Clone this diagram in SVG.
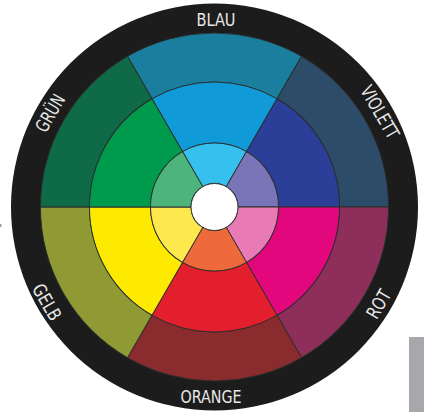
<svg xmlns="http://www.w3.org/2000/svg" xmlns:xlink="http://www.w3.org/1999/xlink" width="424" height="412" viewBox="0 0 424 412">
<style>
.w{stroke:#2a2e2c;stroke-width:0.9;stroke-linejoin:round}
.lbl{font-family:"DejaVu Sans Condensed","DejaVu Sans","Liberation Sans",sans-serif;font-size:18.5px;font-weight:300;fill:#e8e8e8;text-anchor:middle}
</style>
<defs>
<path id="wo" d="M-87,-150.69 A174,174 0 0 1 87,-150.69 L62.5,-108.25 A125,125 0 0 0 -62.5,-108.25 Z"/>
<path id="wm" d="M-62.5,-108.25 A125,125 0 0 1 62.5,-108.25 L32,-55.43 A64,64 0 0 0 -32,-55.43 Z"/>
<path id="wi" d="M-32,-55.43 A64,64 0 0 1 32,-55.43 L11.75,-20.35 A23.5,23.5 0 0 0 -11.75,-20.35 Z"/>
</defs>
<rect width="424" height="412" fill="#ffffff"/>
<rect x="409" y="337" width="15" height="75" fill="#a7a8ab"/>
<rect x="0" y="224" width="1.5" height="3" fill="#9a9a9a"/>
<circle id="ring" cx="214.5" cy="207" r="203.5" fill="#1c1c1c"/>
<g transform="translate(214.5,207)">
<g id="blau">
<use xlink:href="#wo" class="w" fill="#1a7f9e"/>
<use xlink:href="#wm" class="w" fill="#119ad8"/>
<use xlink:href="#wi" class="w" fill="#35c0ee"/>
</g>
<g id="violett" transform="rotate(60)">
<use xlink:href="#wo" class="w" fill="#2d4c69"/>
<use xlink:href="#wm" class="w" fill="#2c3f98"/>
<use xlink:href="#wi" class="w" fill="#7a75b8"/>
</g>
<g id="rot" transform="rotate(120)">
<use xlink:href="#wo" class="w" fill="#8d2f5a"/>
<use xlink:href="#wm" class="w" fill="#e3077d"/>
<use xlink:href="#wi" class="w" fill="#e87bb5"/>
</g>
<g id="orange" transform="rotate(180)">
<use xlink:href="#wo" class="w" fill="#8a2b2e"/>
<use xlink:href="#wm" class="w" fill="#e31e2d"/>
<use xlink:href="#wi" class="w" fill="#ee6a3a"/>
</g>
<g id="gelb" transform="rotate(240)">
<use xlink:href="#wo" class="w" fill="#8f9a35"/>
<use xlink:href="#wm" class="w" fill="#fdea00"/>
<use xlink:href="#wi" class="w" fill="#fde84e"/>
</g>
<g id="gruen" transform="rotate(300)">
<use xlink:href="#wo" class="w" fill="#0f6b47"/>
<use xlink:href="#wm" class="w" fill="#009a4c"/>
<use xlink:href="#wi" class="w" fill="#4db57c"/>
</g>
<circle id="center" r="23.5" fill="#ffffff" class="w"/>
</g>
<g id="labels">
<text class="lbl" x="216" y="19.5" dy="6.7" textLength="39" lengthAdjust="spacingAndGlyphs">BLAU</text>
<text class="lbl" x="211" y="396" dy="6.7" textLength="61" lengthAdjust="spacingAndGlyphs">ORANGE</text>
<text class="lbl" transform="translate(380,112) rotate(60)" dy="6.7" textLength="58" lengthAdjust="spacingAndGlyphs">VIOLETT</text>
<text class="lbl" transform="translate(378.5,304) rotate(-60)" dy="6.7" textLength="30" lengthAdjust="spacingAndGlyphs">ROT</text>
<text class="lbl" transform="translate(47,302) rotate(60)" dy="6.7" textLength="39" lengthAdjust="spacingAndGlyphs">GELB</text>
<text class="lbl" transform="translate(50,113) rotate(-60)" dy="6.7" textLength="40" lengthAdjust="spacingAndGlyphs">GRÜN</text>
</g>
</svg>
